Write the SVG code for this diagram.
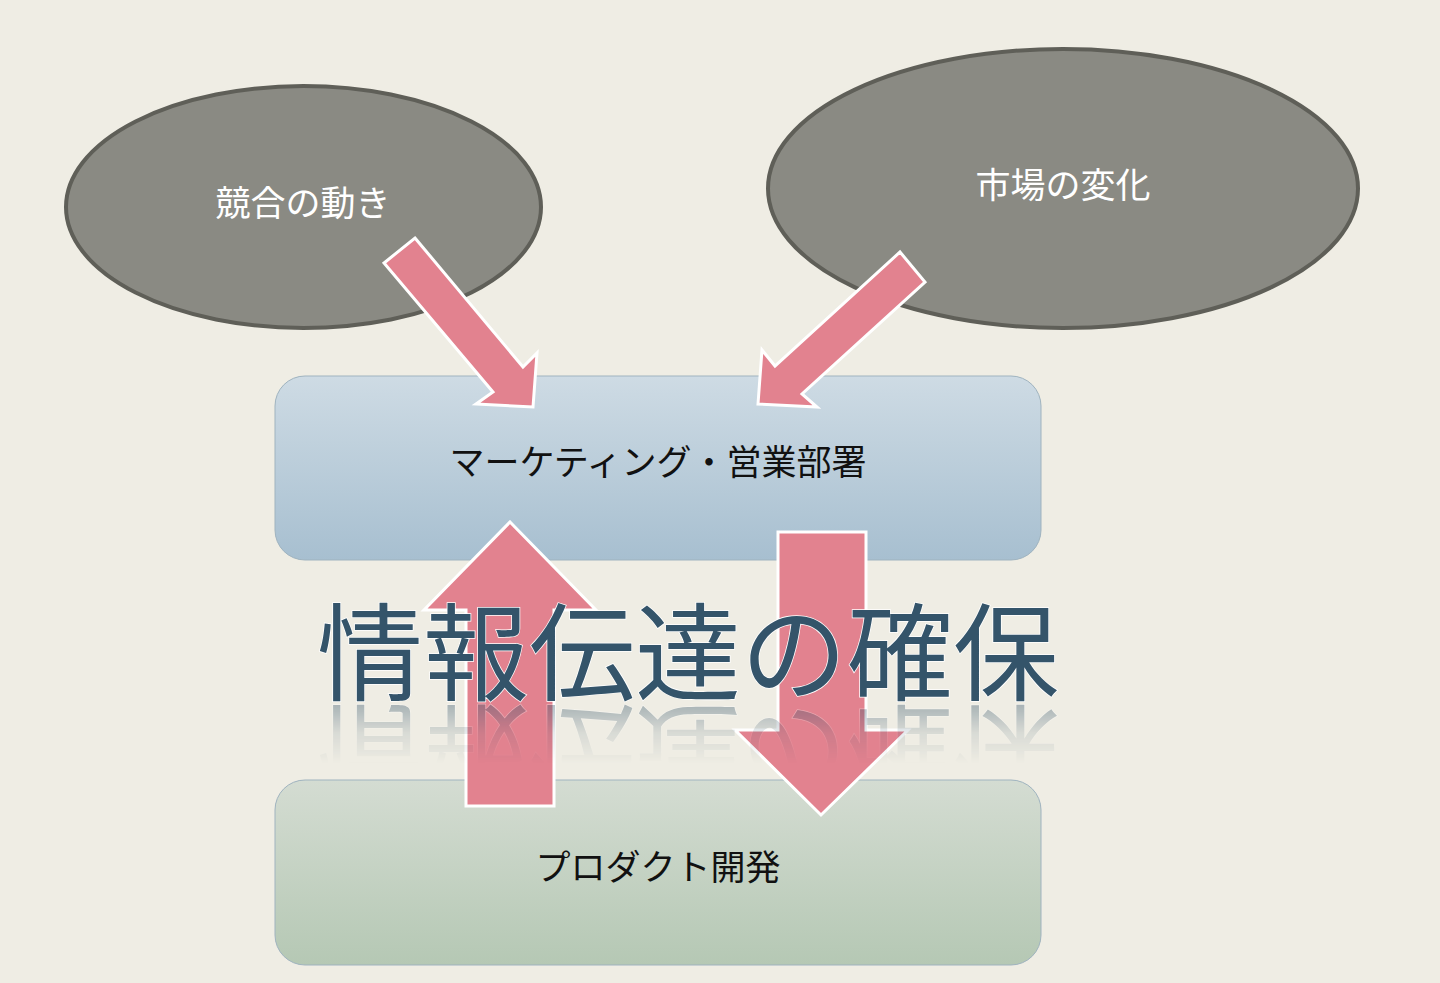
<svg xmlns="http://www.w3.org/2000/svg" width="1440" height="983" viewBox="0 0 1440 983">
<defs>
<linearGradient id="gBlue" x1="0" y1="0" x2="0" y2="1"><stop offset="0" stop-color="#cedbe4"/><stop offset="1" stop-color="#a7bfd0"/></linearGradient>
<linearGradient id="gGreen" x1="0" y1="0" x2="0" y2="1"><stop offset="0" stop-color="#d4dcd2"/><stop offset="1" stop-color="#b5c8b4"/></linearGradient>
<linearGradient id="gRefl" x1="0" y1="0" x2="0" y2="1"><stop offset="0" stop-color="#fff" stop-opacity="0.4"/><stop offset="0.5" stop-color="#fff" stop-opacity="0.12"/><stop offset="1" stop-color="#fff" stop-opacity="0"/></linearGradient>
<mask id="mRefl" maskUnits="userSpaceOnUse" x="0" y="700" width="1440" height="80"><rect x="0" y="702" width="1440" height="62" fill="url(#gRefl)"/></mask>
<style>
.ell{fill:#8a8a83;stroke:#5f5f58;stroke-width:4}
.box{stroke:#9fb3bf;stroke-width:1}
.arr{fill:#e2828f;stroke:#ffffff;stroke-width:3;stroke-linejoin:miter}
.lbl{font-family:"Noto Sans CJK JP","Noto Sans",sans-serif;font-size:35px;text-anchor:middle}
.big{font-family:"Noto Sans CJK JP","Noto Sans",sans-serif;font-size:106px;fill:#34546a;text-anchor:middle;stroke:#ffffff;stroke-width:1.5;paint-order:stroke}
</style>
</defs>
<rect width="1440" height="983" fill="#efede4"/>
<g id="node-competition">
<ellipse class="ell" cx="303.5" cy="207" rx="237.5" ry="121"/>
<text class="lbl" x="303" y="216" fill="#ffffff">競合の動き</text>
</g>
<g id="node-market">
<ellipse class="ell" cx="1063" cy="188.5" rx="295" ry="139.5"/>
<text class="lbl" x="1063" y="198" fill="#ffffff">市場の変化</text>
</g>
<g id="node-marketing">
<rect class="box" x="275" y="376" width="766" height="184" rx="30" fill="url(#gBlue)"/>
<text class="lbl" x="658" y="475" fill="#111111">マーケティング・営業部署</text>
</g>
<g id="node-product">
<rect class="box" x="275" y="780" width="766" height="185" rx="30" fill="url(#gGreen)" stroke="#b5c3b2"/>
<text class="lbl" x="658" y="880" fill="#111111">プロダクト開発</text>
</g>
<g id="connectors">
<polygon class="arr" points="415,238 523,367 537,353 533,407 476,404 493,392 384,263"/>
<polygon class="arr" points="900,252 925,282 802,394 817,407 758,404 762,350 775,366"/>
<polygon class="arr" points="510,522 596,610 554,610 554,806 466,806 466,610 424,610"/>
<polygon class="arr" points="778,532 866,532 866,730 908,730 821,815 735,730 778,730"/>
</g>
<g id="title">
<text id="bigtext" class="big" x="688" y="692">情報伝達の確保</text>
<g mask="url(#mRefl)"><use href="#bigtext" transform="translate(0,1406) scale(1,-1)"/></g>
</g>
</svg>
